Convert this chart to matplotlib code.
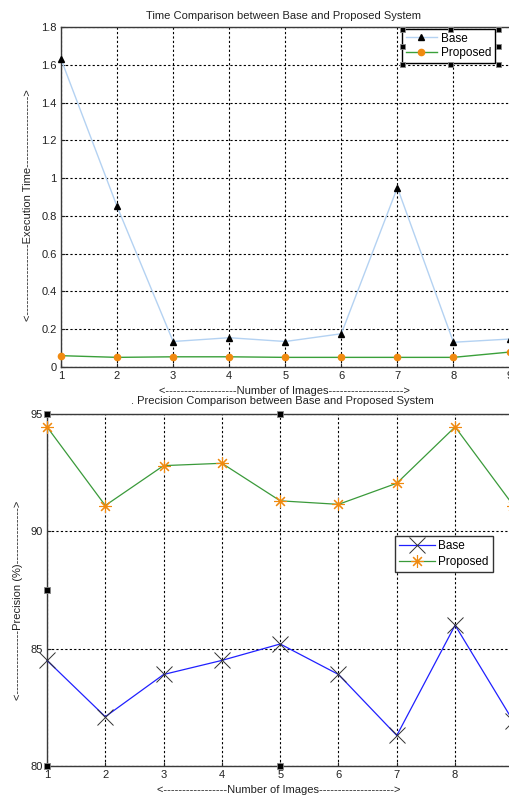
import matplotlib
matplotlib.use("Agg")
import matplotlib.pyplot as plt

# ---------------- data ----------------
images = [1, 2, 3, 4, 5, 6, 7, 8, 9]
time_base = [1.63, 0.85, 0.135, 0.155, 0.135, 0.176, 0.95, 0.131, 0.148]
time_proposed = [0.060, 0.051, 0.054, 0.054, 0.051, 0.051, 0.051, 0.051, 0.079]
prec_base = [84.5, 82.1, 83.9, 84.5, 85.2, 83.9, 81.3, 86.0, 81.9]
prec_proposed = [94.45, 91.1, 92.8, 92.9, 91.3, 91.15, 92.05, 94.45, 91.1]
time_yticks = [0, 0.2, 0.4, 0.6, 0.8, 1, 1.2, 1.4, 1.6, 1.8]
time_yticklabels = ["0", "0.2", "0.4", "0.6", "0.8", "1", "1.2", "1.4", "1.6", "1.8"]
prec_yticks = [80, 85, 90, 95]

plt.rcParams['font.family'] = ['Liberation Sans', 'DejaVu Sans']
W, H = 509, 796
fig = plt.figure(figsize=(W / 100, H / 100), dpi=100)

def fx(px):
    return px / W

def fy(py):
    return 1 - py / H

spine_col = '#3a3a3a'
FS = 8

def style_axes(ax):
    for s in ax.spines.values():
        s.set_color(spine_col)
        s.set_linewidth(1.0)
    ax.tick_params(direction='in', length=3, width=0.8, colors='#222222',
                   labelsize=8, pad=3)
    ax.grid(True, color='black', linestyle=(0, (2, 2)), linewidth=0.8)
    ax.set_axisbelow(True)

# ---------------- top axes ----------------
ax1 = fig.add_axes([fx(61), fy(367), fx(509.5) - fx(61), fy(27) - fy(367)])
ax1.plot(images, time_base, color='#b4d2f2', lw=1.0, marker='^', ms=5,
         mfc='black', mec='black', label='Base', clip_on=False, zorder=3)
ax1.plot(images, time_proposed, color='#3aa03a', lw=1.0, marker='o', ms=4.5,
         mfc='#f08a10', mec='#f08a10', label='Proposed', clip_on=False, zorder=3)
ax1.set_xlim(1, 9)
ax1.set_ylim(0, 1.8)
ax1.set_xticks(images)
ax1.set_yticks(time_yticks)
ax1.set_yticklabels(time_yticklabels)
style_axes(ax1)

leg1 = ax1.legend(loc='upper left', bbox_to_anchor=(fx(402), fy(29)),
                  bbox_transform=fig.transFigure, fontsize=FS + 0.5, frameon=True,
                  fancybox=False, edgecolor='black', framealpha=1,
                  borderpad=0.3, handlelength=2.7, handletextpad=0.3,
                  labelspacing=0.25, borderaxespad=0)
leg1.get_frame().set_linewidth(1.0)

# legend selection handles (top)
for hx in (402, 450, 498):
    for hy in (29, 64):
        fig.patches.append(plt.Rectangle((fx(hx - 2.5), fy(hy + 2.5)), fx(5), 5 / H,
                                         transform=fig.transFigure, facecolor='black',
                                         edgecolor='#888888', lw=0.6, zorder=10))
for hx in (402, 498):
    fig.patches.append(plt.Rectangle((fx(hx - 2.5), fy(46.5 + 2.5)), fx(5), 5 / H,
                                     transform=fig.transFigure, facecolor='black',
                                     edgecolor='#888888', lw=0.6, zorder=10))

fig.text(fx(284), fy(16), "Time Comparison between Base and Proposed System",
         ha='center', va='center', fontsize=FS, color='#222222')
fig.text(fx(284), fy(391), "<" + "-" * 19 + "Number of Images" + "-" * 20 + ">",
         ha='center', va='center', fontsize=FS, color='#222222')
fig.text(fx(28), fy(205), "<" + "-" * 19 + "Execution Time" + "-" * 19 + ">",
         ha='center', va='center', rotation=90, fontsize=FS, color='#222222')

# ---------------- bottom axes ----------------
ax2 = fig.add_axes([fx(47), fy(766), fx(513.4) - fx(47), fy(414) - fy(766)])
ax2.plot(images, prec_base, color='#2020ff', lw=0.9, marker='x', ms=11, mew=0.7,
         mec='#303030', label='Base', clip_on=False, zorder=3)
ax2.plot(images, prec_proposed, color='#3a9a3a', lw=0.9, marker=(8, 2, 0), ms=9,
         mew=0.8, mec='#f08a10', label='Proposed', clip_on=False, zorder=3)
ax2.set_xlim(1, 9)
ax2.set_ylim(80, 95)
ax2.set_xticks(images)
ax2.set_yticks(prec_yticks)
style_axes(ax2)

leg2 = ax2.legend(loc='upper left', bbox_to_anchor=(fx(395), fy(536)),
                  bbox_transform=fig.transFigure, fontsize=FS + 0.5, frameon=True,
                  fancybox=False, edgecolor='#333333', framealpha=1,
                  borderpad=0.35, handlelength=3.0, handletextpad=0.3,
                  labelspacing=0.3, borderaxespad=0)
leg2.get_frame().set_linewidth(1.0)

# axes selection handles (bottom)
for (hx, hy) in [(47, 414), (280, 414), (47, 590), (47, 766), (280, 766)]:
    fig.patches.append(plt.Rectangle((fx(hx - 3), fy(hy + 3)), fx(6), 6 / H,
                                     transform=fig.transFigure, facecolor='black',
                                     edgecolor='#888888', lw=0.6, zorder=10))

fig.text(fx(282), fy(401), ". Precision Comparison between Base and Proposed System",
         ha='center', va='center', fontsize=FS, color='#222222')
fig.text(fx(279), fy(790), "<" + "-" * 17 + "Number of Images" + "-" * 20 + ">",
         ha='center', va='center', fontsize=FS, color='#222222')
fig.text(fx(18), fy(600), "<" + "-" * 17 + "Precision (%)" + "-" * 15 + ">",
         ha='center', va='center', rotation=90, fontsize=FS, color='#222222')

fig.savefig("out.png", dpi=100)
